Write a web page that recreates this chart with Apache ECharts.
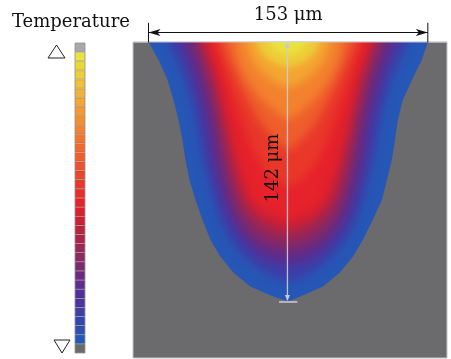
<!DOCTYPE html>
<html>
<head>
<meta charset="utf-8">
<script src="https://cdn.jsdelivr.net/npm/echarts@6/dist/echarts.min.js"></script>
<style>
html, body { margin: 0; padding: 0; background: #fff; }
#main { width: 451px; height: 359px; }
</style>
</head>
<body>
<div id="main"></div>
<script>
var poolWidth = 153;   // um
var poolDepth = 142;   // um

// temperature scale, hot (top) to cold (bottom)
var scaleColors = [
    '#e9e33d', '#ebd93b', '#eecd39', '#f0c037', '#f2b334', '#f3a632', '#f49a30', '#f48e2f',
    '#f3822e', '#f2762d', '#f06a2c', '#ee5e2c', '#ec522b', '#eb452b', '#e9382a', '#e72c2a',
    '#e6222b', '#da1f30', '#cc2036', '#bc233f', '#ac2549', '#9c2754', '#8c2960', '#7c2a70',
    '#6c2b80', '#5e2d8e', '#522f98', '#4836a0', '#3e3ea8', '#3446ae', '#2c4fb2', '#2657b6'
];
var scaleOver = '#a9a9ab';
var scaleUnder = '#6a6a6c';

// melt pool outline (depth, left / right half width), um
var outerDepth = [0, 9.8, 20.8, 31.7, 42.6, 53.6, 64.5, 75.4, 86.3, 97.3, 108.2, 117.5, 126.2, 133.9, 139.3, 142];
var outerLeft  = [76.5, 71.0, 66.1, 62.8, 60.1, 57.9, 56.3, 54.1, 50.8, 47.0, 42.6, 37.2, 30.1, 20.8, 8.2, 0];
var outerRight = [76.5, 73.2, 67.8, 62.8, 60.1, 58.5, 56.8, 54.1, 51.4, 46.4, 41.0, 35.5, 28.4, 19.1, 6.6, 0];

// isotherms inside the pool: [half width, depth], um
var iso1  = [[66,0],[61,10],[56.5,21],[53,32],[50.5,43],[48.5,54],[46.5,65],[44,75],[41,86],[37.5,97],[32.5,107],[25.5,116.5],[16.5,124],[7,129.5],[0,131.5]];
var iso2  = [[59.5,0],[55,10],[51,21],[48,32],[45.5,43],[43.5,54],[41.5,65],[39,75],[36,86],[32,97],[26.5,106],[19.5,114],[10,120],[0,122.5]];
var iso3  = [[54,0],[50,10],[46.5,21],[43.5,32],[41,43],[39,54],[37,65],[35,75],[32,86],[28,96],[22,105],[14,111.5],[0,116]];
var iso4  = [[50,0],[46.5,10],[43,21],[40.5,32],[38,43],[36,54],[34,65],[31.5,75],[28.5,86],[24,95],[17,103],[9,108],[0,110]];
var iso5  = [[47,0],[43.5,10],[40,21],[37.5,32],[35,43],[33,54],[30.5,65],[28,75],[24.5,86],[19,94],[11,100],[0,104]];
var iso6  = [[44,0],[40.5,10],[37,21],[34.5,32],[32,43],[29.5,54],[27,65],[24,75],[20,86],[13,93],[0,98]];
var iso7  = [[40,0],[36.5,10],[33,21],[29,32],[25,43],[21,54],[16,65],[9,74],[0,80]];
var iso8  = [[36,0],[32,10],[27.5,21],[22,32],[16,43],[9,52],[0,60]];
var iso9  = [[30,0],[27.5,10],[22.5,21],[15,31],[7,38],[0,43]];
var iso10 = [[23,0],[20.5,8],[15,16],[7.5,22],[0,25]];
var iso11 = [[17,0],[14.5,6],[9,11],[0,14]];
var iso12 = [[10,0],[7.5,4],[0,7.5]];

// scale cell shown inside each contour (outer first)
var isoColorIdx = [31, 28, 25, 23, 21, 18, 16, 14, 11, 8, 5, 2, 0];

var outerPts = outerDepth.map(function (d, i) { return [outerLeft[i], d, outerRight[i]]; });
var isoList = [outerPts, iso1, iso2, iso3, iso4, iso5, iso6, iso7, iso8, iso9, iso10, iso11, iso12];

// polygon of one contour in pixels, mirrored about the pool axis
function contourPoints(api, pts, shift, extendTop) {
    var left = [], right = [];
    var all = extendTop ? [[pts[0][0], -20, pts[0][2]]].concat(pts) : pts;
    all.forEach(function (p) {
        var hr = p.length > 2 && p[2] != null ? p[2] : p[0];
        var l = api.coord([-p[0], p[1]]);
        var r = api.coord([hr, p[1]]);
        left.push([l[0] - shift, l[1]]);
        right.unshift([r[0] - shift, r[1]]);
    });
    return left.concat(right);
}

var scaleCells = [scaleOver].concat(scaleColors, [scaleUnder]);

var myChart = echarts.init(document.getElementById('main'));
var serif = '"DejaVu Serif", serif';
var OFF = 3000;

var option = {
    animation: false,
    grid: [
        { left: 133, top: 42, width: 314, height: 316, show: true,
          backgroundColor: '#6b6b6e', borderColor: '#c4c4c4', borderWidth: 1 },
        { left: 75, top: 43, width: 10, height: 310, show: true,
          borderColor: '#b5b5b5', borderWidth: 1 }
    ],
    xAxis: [
        { gridIndex: 0, type: 'value', min: -85, max: 87, show: false },
        { gridIndex: 1, type: 'value', min: 0, max: 1, show: false }
    ],
    yAxis: [
        { gridIndex: 0, type: 'value', min: 0, max: 173, inverse: true, show: false },
        { gridIndex: 1, type: 'category', inverse: true, show: false,
          data: scaleCells.map(function (c, i) { return 'c' + i; }) }
    ],
    graphic: [
        { type: 'text', left: 12, top: 13,
          style: { text: 'Temperature', font: '18px ' + serif, fill: '#111' } },
        { type: 'polygon', shape: { points: [[48, 58], [65, 58], [56.5, 45]] },
          style: { fill: '#fff', stroke: '#222', lineWidth: 1 } },
        { type: 'polygon', shape: { points: [[54, 340], [70, 340], [62, 353]] },
          style: { fill: '#fff', stroke: '#222', lineWidth: 1 } }
    ],
    series: [
        {
            type: 'bar', xAxisIndex: 1, yAxisIndex: 1,
            barWidth: '100%', barCategoryGap: 0,
            data: scaleCells.map(function (c) {
                return { value: 1, itemStyle: { color: c, borderColor: 'rgba(60,40,40,0.35)', borderWidth: 0.6 } };
            })
        },
        {
            type: 'custom', xAxisIndex: 0, yAxisIndex: 0, clip: true,
            data: isoList.map(function (p, i) { return [i, 0]; }),
            renderItem: function (params, api) {
                var i = params.dataIndex;
                var color = scaleColors[isoColorIdx[i]];
                if (i === 0) {
                    return {
                        type: 'polygon',
                        shape: { points: contourPoints(api, isoList[i], 0, false) },
                        style: { fill: color }
                    };
                }
                // inner isotherms are drawn as soft-edged shadows to blend the bands
                return {
                    type: 'polygon',
                    shape: { points: contourPoints(api, isoList[i], OFF, true) },
                    style: { fill: color, shadowBlur: i > 10 ? 6 : 9, shadowColor: color,
                             shadowOffsetX: OFF, shadowOffsetY: 0 }
                };
            }
        },
        {
            type: 'custom', xAxisIndex: 0, yAxisIndex: 0, clip: false, z: 5,
            data: [[0, 0]],
            renderItem: function (params, api) {
                var half = poolWidth / 2;
                var a = api.coord([-half, -5.2]);
                var b = api.coord([half, -5.2]);
                var e1 = api.coord([-half, -10.5]);
                var e2 = api.coord([half, 0.3]);
                var t0 = api.coord([-85, 0]);
                var t1 = api.coord([87, 0]);
                var v0 = api.coord([-0.4, 0]);
                var v1 = api.coord([-0.4, poolDepth - 0.8]);
                var k0 = api.coord([-5, poolDepth + 0.3]);
                var k1 = api.coord([5, poolDepth + 0.3]);
                var wl = api.coord([0, -14.5]);
                var dl = api.coord([-8, 69]);
                return {
                    type: 'group',
                    children: [
                        { type: 'line', shape: { x1: t0[0], y1: t0[1], x2: t1[0], y2: t1[1] },
                          style: { stroke: 'rgba(205,205,210,0.9)', lineWidth: 1 } },
                        { type: 'line', shape: { x1: a[0], y1: a[1], x2: b[0], y2: b[1] },
                          style: { stroke: '#111', lineWidth: 1.2 } },
                        { type: 'line', shape: { x1: e1[0], y1: e1[1], x2: e1[0], y2: e2[1] },
                          style: { stroke: '#111', lineWidth: 1 } },
                        { type: 'line', shape: { x1: e2[0], y1: e1[1], x2: e2[0], y2: e2[1] },
                          style: { stroke: '#111', lineWidth: 1 } },
                        { type: 'polygon', shape: { points: [[a[0], a[1]], [a[0] + 12, a[1] - 3.5], [a[0] + 9, a[1]], [a[0] + 12, a[1] + 3.5]] },
                          style: { fill: '#111' } },
                        { type: 'polygon', shape: { points: [[b[0], b[1]], [b[0] - 12, b[1] - 3.5], [b[0] - 9, b[1]], [b[0] - 12, b[1] + 3.5]] },
                          style: { fill: '#111' } },
                        { type: 'line', shape: { x1: v0[0], y1: v0[1], x2: v1[0], y2: v1[1] },
                          style: { stroke: 'rgba(205,205,215,0.9)', lineWidth: 1.3 } },
                        { type: 'polygon', shape: { points: [[v1[0], v1[1] + 1], [v1[0] - 2.5, v1[1] - 5], [v1[0] + 2.5, v1[1] - 5]] },
                          style: { fill: '#c9c9d2' } },
                        { type: 'polygon', shape: { points: [[v0[0], v0[1]], [v0[0] - 2.5, v0[1] + 6], [v0[0] + 2.5, v0[1] + 6]] },
                          style: { fill: '#c9c9d2' } },
                        { type: 'line', shape: { x1: k0[0], y1: k0[1], x2: k1[0], y2: k1[1] },
                          style: { stroke: '#b8b8c0', lineWidth: 2 } },
                        { type: 'text', x: wl[0], y: wl[1],
                          style: { text: poolWidth + ' μm', font: '18px ' + serif, fill: '#111',
                                   align: 'center', verticalAlign: 'middle' } },
                        { type: 'text', x: dl[0], y: dl[1], rotation: Math.PI / 2,
                          style: { text: poolDepth + ' μm', font: '18px ' + serif, fill: '#111',
                                   align: 'center', verticalAlign: 'middle' } }
                    ]
                };
            }
        }
    ]
};

myChart.setOption(option);
</script>
</body>
</html>
